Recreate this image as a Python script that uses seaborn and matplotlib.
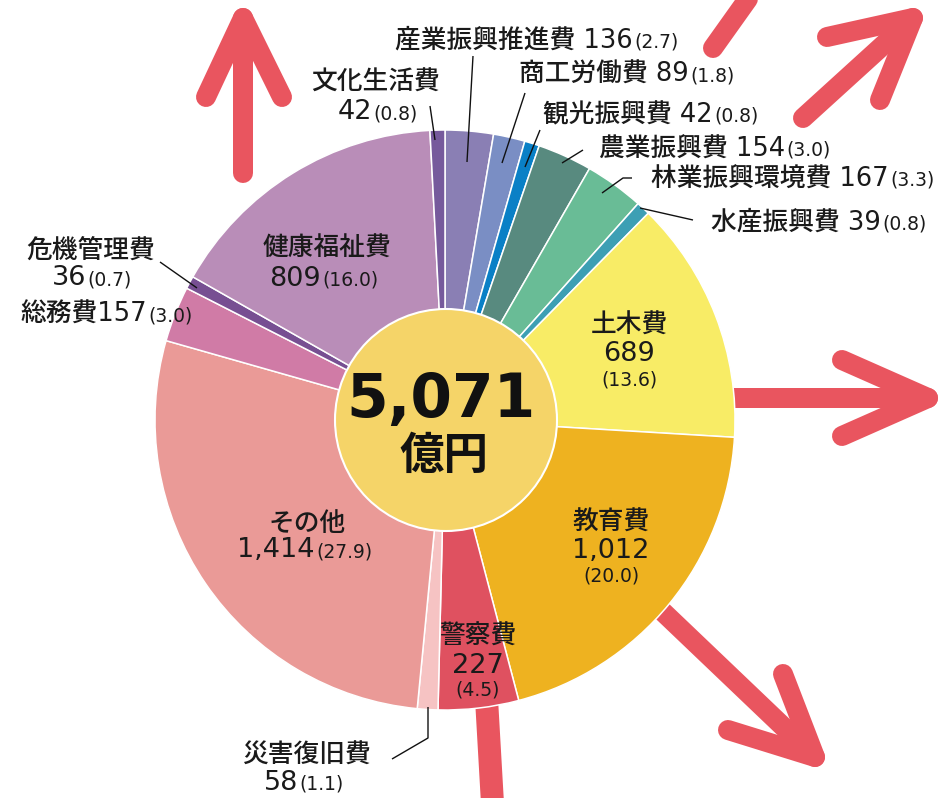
import matplotlib
matplotlib.use("Agg")
import matplotlib.pyplot as plt
import seaborn as sns
from matplotlib.patches import Circle

# ---------------- data ----------------
categories = ["産業振興推進費", "商工労働費", "観光振興費", "農業振興費", "林業振興環境費",
              "水産振興費", "土木費", "教育費", "警察費", "災害復旧費", "その他",
              "総務費", "危機管理費", "健康福祉費", "文化生活費"]
values = [136, 89, 42, 154, 167, 39, 689, 1012, 227, 58, 1414, 157, 36, 809, 42]
shares = ["2.7", "1.8", "0.8", "3.0", "3.3", "0.8", "13.6", "20.0", "4.5", "1.1",
          "27.9", "3.0", "0.7", "16.0", "0.8"]
colors = ["#8A7FB4", "#7A8EC4", "#0A80C6", "#588A7F", "#69BC96", "#3D9FB4",
          "#F8EC66", "#EEB220", "#DF5160", "#F6C3C3", "#EA9A97", "#D07BA6",
          "#774F92", "#B98DB8", "#765A9C"]
unit = "億円"

# ---------------- style ----------------
sns.set_theme(style="white")
plt.rcParams["font.family"] = ["DejaVu Sans", "Noto Sans CJK JP"]
FAM = ["DejaVu Sans", "Noto Sans CJK JP"]
TXT = "#1a1a1a"
RED = "#E9555F"
WT = "medium"

W, H = 943, 798
fig = plt.figure(figsize=(W / 100, H / 100), dpi=100)
ax = fig.add_axes([0, 0, 1, 1])


def Y(y):
    return H - y


# ---------------- background arrows ----------------
LW = 20 * 72 / 100


def stroke(pts, lw=LW):
    xs = [p[0] for p in pts]
    ys = [Y(p[1]) for p in pts]
    ax.plot(xs, ys, color=RED, lw=lw, solid_capstyle="round",
            solid_joinstyle="round", zorder=1)


arrows = [
    ([(243, 173), (243, 18)], [(206, 97), (243, 18), (282, 97)]),
    ([(713, 48), (770, -32)], None),
    ([(803, 118), (913, 18)], [(827, 37), (913, 18), (880, 100)]),
    ([(700, 398), (928, 398)], [(842, 360), (928, 398), (842, 436)]),
    ([(640, 590), (815, 757)], [(783, 674), (815, 757), (728, 730)]),
    ([(486, 690), (494, 830)], None),
]
for shaft, head in arrows:
    stroke(shaft, lw=LW if shaft[0][0] != 486 else 23 * 72 / 100)
    if head:
        stroke(head)

# ---------------- donut ----------------
CX, CY, R = 445, 420, 290
wedges, _ = ax.pie(values, colors=colors, startangle=90, counterclock=False,
                   center=(CX, Y(CY)), radius=R, frame=True,
                   wedgeprops=dict(edgecolor="white", linewidth=1.1))
for w in wedges:
    w.set_zorder(3)
ax.add_patch(Circle((CX + 1, Y(CY)), 111, facecolor="#F5D468",
                    edgecolor="white", linewidth=1.5, zorder=4))

total = sum(values)
ax.text(441, Y(400), f"{total:,}", ha="center", va="center", fontsize=43,
        fontweight="bold", family=FAM, color="#111111", zorder=5)
ax.text(444, Y(456), unit, ha="center", va="center", fontsize=32,
        fontweight="bold", family=["Noto Sans CJK JP"], color="#111111", zorder=5)

ax.set_xlim(0, W)
ax.set_ylim(0, H)
ax.set_aspect("equal")
ax.axis("off")

MAIN = 18.5
NUM = 19.5
PAR = 13.5


def num(i):
    return f"{values[i]:,}"


def par(i):
    return f"({shares[i]})"


def T(x, y, s, size, ha):
    ax.text(x, Y(y), s, ha=ha, va="baseline", fontsize=size, family=FAM,
            fontweight=WT, color=TXT, zorder=6)


def inline(i, split_x, base_y, sep=" "):
    T(split_x, base_y, f"{categories[i]}{sep}{num(i)}", MAIN, "right")
    T(split_x + 1, base_y, par(i), PAR, "left")


def two_line(i, cx, y1, split_x, y2):
    T(cx, y1, categories[i], MAIN, "center")
    T(split_x, y2, num(i), NUM, "right")
    T(split_x + 1, y2, par(i), PAR, "left")


def three_line(i, cx, y1, y2, y3):
    T(cx, y1, categories[i], MAIN, "center")
    T(cx, y2, num(i), NUM, "center")
    T(cx, y3, par(i), PAR, "center")


def leader(pts):
    ax.plot([p[0] for p in pts], [Y(p[1]) for p in pts], color="#111111",
            lw=1.0, zorder=6, solid_capstyle="butt")


# outside labels (top right)
inline(0, 633, 48)
inline(1, 689, 82)
inline(2, 713, 121)
inline(3, 785, 156)
inline(4, 889, 186)
inline(5, 881, 230)
leader([(473, 56), (467, 162)])
leader([(525, 93), (502, 163)])
leader([(540, 130), (525, 167)])
leader([(583, 150), (562, 163)])
leader([(632, 178), (623, 178), (602, 193)])
leader([(693, 220), (640, 208)])

# 文化生活費
two_line(14, 376, 90, 372, 119)
leader([(430, 106), (435, 140)])

# 危機管理費 / 総務費
two_line(12, 91, 258, 86, 285)
leader([(160, 262), (197, 288)])
inline(11, 147, 322, sep="")

# 災害復旧費
two_line(9, 306, 763, 298, 790)
leader([(392, 759), (428, 738), (428, 707)])

# inside labels
two_line(13, 327, 256, 321, 286)
two_line(10, 307, 531, 315, 557)
three_line(6, 629, 333, 361, 385)
three_line(7, 611, 530, 558, 582)
three_line(8, 478, 644, 673, 696)

fig.savefig("out.png", dpi=100, facecolor="white")
